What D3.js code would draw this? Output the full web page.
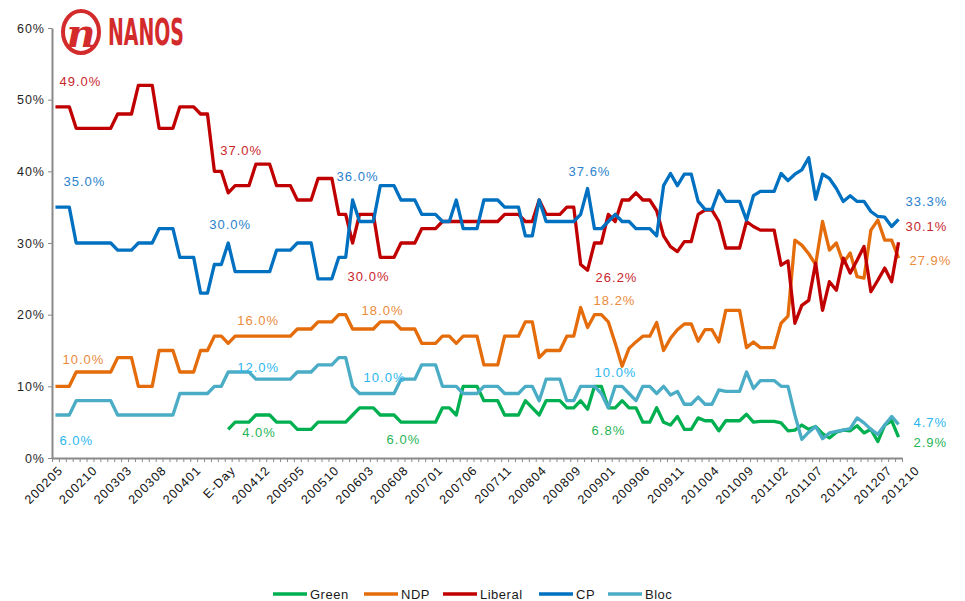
<!DOCTYPE html>
<html>
<head>
<meta charset="utf-8">
<title>Nanos tracking</title>
<script src="https://d3js.org/d3.v7.min.js"></script>
<style>
  body { margin: 0; background: #fff; }
  text { font-family: "Liberation Sans", Arial, sans-serif; }
</style>
</head>
<body>
<div id="chart"></div>
<script>
/* ---- data ---- */
var tickLabels = ["200205","200210","200303","200308","200401","E-Day","200412","200505","200510",
                  "200603","200608","200701","200706","200711","200804","200809","200901","200906",
                  "200911","201004","201009","201102","201107","201112","201207","201210"];
var tickIndex = [0,5,10,15,20,25,30,35,40,45,50,55,60,65,70,75,80,85,90,95,100,105,110,115,120,124];
var nPoints = 123;

var green = [null,null,null,null,null,null,null,null,null,null,null,null,null,null,null,null,null,null,null,null,null,null,null,null,null,
  4, 5,5,5, 6,6,6, 5,5,5, 4,4,4, 5,5,5,5,5, 6, 7,7,7, 6,6,6, 5,5,5,5,5,5, 7,7, 6, 10,10,10, 8,8,8, 6,6,6, 8, 7, 6, 8,8,8, 7,7, 8, 6.8, 10,10,
  7,7,8,7,7,5,5,7,5,4.6, 5.8,4,4,5.6,5.2,5.2,3.8,5.2,5.2,5.2, 6.1,5,5.1,5.1,5.1,4.9,3.8,3.9,4.6,4.0,
  4.4,3.4,2.8,3.6,3.9,3.8,4.5,3.5,4.0,2.3, 4.6,5.2,2.9];
var ndp = [10,10,10, 12,12,12,12,12,12, 14,14,14, 10,10,10, 15,15,15, 12,12,12, 15,15, 17,17, 16,
  17,17,17,17,17,17,17,17,17, 18,18,18, 19,19,19, 20,20, 18,18,18,18, 19,19,19, 18,18,18, 16,16,16, 17,17, 16,
  17,17,17, 13,13,13, 17,17,17, 19,19, 14, 15,15,15, 17,17, 21, 18.2, 20,20,
  19,16,12.8,15.3,16.2,17,17,18.9,15,16.7, 17.9,18.7,18.7,16.3,17.9,17.9,16.2,20.6,20.6,20.6,
  15.4,16.2,15.4,15.4,15.4,18.8,19.8,30.4,29.7,28.5, 27,33,29,30,27.2,28.6,25.3,25.1,31.8,33.2, 30.4,30.4,27.9];
var liberal = [49,49,49, 46,46,46,46,46,46, 48,48,48, 52,52,52, 46,46,46, 49,49,49, 48,48, 40,40, 37,
  38,38,38, 41,41,41, 38,38,38, 36,36,36, 39,39,39, 34,34, 30, 34,34,34, 28,28,28, 30,30,30, 32,32,32,
  33,33,33,33,33,33,33,33,33, 34,34,34, 33,33, 36, 34,34,34, 35,35, 27, 26.2, 30,30, 34, 33, 36,36,37,36,36,
  34.5,31,29.5,28.8,30.2,30.2,34,34.6,34.6,33, 29.3,29.3,29.3,33,32.3,31.8,31.8,31.8,26.9,27.5,
  18.8,21.3,22,27.2,20.6,24.6,23.4,27.9,25.8,27.6, 29.5,23.2,24.8,26.5,24.6,30.1];
var cp = [35,35,35, 30,30,30,30,30,30, 29,29,29, 30,30,30, 32,32,32, 28,28,28, 23,23, 27,27, 30,
  26,26,26,26,26,26, 29,29,29, 30,30,30, 25,25,25, 28,28, 36, 33,33,33, 38,38,38, 36,36,36, 34,34,34, 33,33, 36,
  32,32,32, 36,36,36, 35,35,35, 31,31, 36, 33,33,33,33,33, 34, 37.6, 32,32, 33, 34, 33,33, 32,32,32,
  31,38,39.7,38,39.6,39.6,35.8,34.7,34.7,37.3, 35.8,35.8,35.8,33.2,36.6,37.2,37.2,37.2,39.7,38.7,
  39.6,40.2,41.9,36.1,39.6,39,37.6,35.8,36.6,35.8, 35.8,34.4,33.7,33.6,32.3,33.3];
var bloc = [6,6,6, 8,8,8,8,8,8, 6,6,6,6,6,6,6,6,6, 9,9,9,9,9, 10,10, 12,12,12,12, 11,11,11,11,11,11,
  12,12,12, 13,13,13, 14,14, 10, 9,9,9,9,9,9, 11,11,11, 13,13,13, 10,10,10, 9,9,9, 10,10,10, 9,9,9, 10,10, 8,
  11,11,11, 8,8, 10, 10,
  10,9,7,10,10,9,8,10,10,9, 10,8.8,9.3,7.5,7.5,8.5,7.5,7.5,9.5,9.3,
  9.3,9.3,12,9.7,10.8,10.8,10.8,10,10,6, 2.6,3.6,4.4,2.7,3.5,3.7,3.9,4.1,5.6,4.9, 4.0,3.3,4.6,5.8,4.7];

var seriesNames = ["Green", "NDP", "Liberal", "CP", "Bloc"];
var seriesValues = [green, ndp, liberal, cp, bloc];
var lineColors = ["#00b050", "#e46c0a", "#c00000", "#0070c0", "#4bacc6"];
var labelColors = ["#1fb455", "#ea8a3a", "#c9252c", "#2a82cc", "#2bb6ee"];

/* value labels: series, point index, offset from the point */
var annotations = [
  {s: 2, i: 0, dx: 4, dy: -21}, {s: 3, i: 0, dx: 8, dy: -21}, {s: 1, i: 0, dx: 7, dy: -22}, {s: 4, i: 0, dx: 4, dy: 30},
  {s: 2, i: 25, dx: -8, dy: -38}, {s: 3, i: 25, dx: -19, dy: -14}, {s: 1, i: 25, dx: 9, dy: -18},
  {s: 4, i: 25, dx: 9, dy: 0}, {s: 0, i: 25, dx: 14, dy: 8},
  {s: 3, i: 43, dx: -16, dy: -19}, {s: 2, i: 43, dx: -5, dy: 38}, {s: 1, i: 43, dx: 9, dy: -14},
  {s: 4, i: 43, dx: 11, dy: -4}, {s: 0, i: 43, dx: 34, dy: 29},
  {s: 3, i: 77, dx: -19, dy: -13}, {s: 2, i: 77, dx: 8, dy: 12}, {s: 1, i: 77, dx: 6, dy: -23},
  {s: 4, i: 77, dx: 7, dy: -9}, {s: 0, i: 77, dx: 4, dy: 26},
  {s: 3, i: 122, dx: 7, dy: -13}, {s: 2, i: 122, dx: 7, dy: -11}, {s: 1, i: 122, dx: 11, dy: 7},
  {s: 4, i: 122, dx: 15, dy: 3}, {s: 0, i: 122, dx: 15, dy: 10}
];

/* ---- layout ---- */
var total_width = 965, total_height = 601;
var plot = {left: 52, right: 902, top: 28, bottom: 458};

var svg = d3.select("#chart").append("svg")
    .attr("width", total_width)
    .attr("height", total_height);

var x = d3.scaleLinear().domain([-0.5, nPoints - 0.5]).range([plot.left, plot.right]);
var y = d3.scaleLinear().domain([0, 60]).range([plot.bottom, plot.top]);

/* logo */
var logo = svg.append("g").attr("fill", "#d32b2b");
logo.append("ellipse")
    .attr("cx", 81).attr("cy", 32).attr("rx", 18).attr("ry", 21)
    .attr("fill", "none").attr("stroke", "#d32b2b").attr("stroke-width", 4);
logo.append("text")
    .attr("x", 81).attr("y", 47).attr("text-anchor", "middle")
    .style("font-family", "'DejaVu Serif', 'Liberation Serif', serif")
    .style("font-style", "italic").style("font-weight", "bold")
    .style("font-size", "40px").text("n");
logo.append("text")
    .attr("x", 108).attr("y", 45)
    .attr("textLength", 76).attr("lengthAdjust", "spacingAndGlyphs")
    .style("font-family", "'Liberation Sans Narrow', 'DejaVu Sans Condensed', sans-serif")
    .style("font-weight", "bold").style("font-size", "37px").text("NANOS");

/* y axis */
var yAxis = svg.append("g")
    .attr("transform", "translate(" + plot.left + ",0)")
    .call(d3.axisLeft(y).tickValues([0, 10, 20, 30, 40, 50, 60])
        .tickFormat(function(d){ return d + "%"; }).tickSize(4).tickSizeOuter(0));
yAxis.select(".domain").attr("stroke", "#898989").attr("stroke-width", 2);
yAxis.selectAll(".tick line").attr("stroke", "#898989").attr("stroke-width", 1);
yAxis.selectAll(".tick text")
    .attr("x", -7)
    .style("font-size", "12.5px").style("letter-spacing", "1px").attr("fill", "#1f1f1f");

/* x axis */
var xAxis = svg.append("g")
    .attr("transform", "translate(0," + plot.bottom + ")")
    .call(d3.axisBottom(x).tickValues(d3.range(nPoints + 1).map(function(i){ return i - 0.5; }))
        .tickFormat("").tickSize(4).tickSizeOuter(0));
xAxis.select(".domain").attr("stroke", "#898989").attr("stroke-width", 2);
xAxis.selectAll(".tick line").attr("stroke", "#898989").attr("stroke-width", 1);

svg.append("g").selectAll("text")
    .data(tickLabels)
    .enter().append("text")
    .attr("transform", function(d, k){ return "translate(" + (x(tickIndex[k]) + 5) + "," + (plot.bottom + 10) + ") rotate(-45)"; })
    .attr("text-anchor", "end")
    .attr("dy", "0.35em")
    .style("font-size", "12.5px").style("letter-spacing", "1px")
    .attr("fill", "#111")
    .text(function(d){ return d; });

/* lines */
var line = d3.line()
    .defined(function(d){ return d != null; })
    .x(function(d, i){ return x(i); })
    .y(function(d){ return y(d); });

svg.append("g").selectAll("path")
    .data(seriesValues)
    .enter().append("path")
    .attr("d", line)
    .attr("fill", "none")
    .attr("stroke", function(d, k){ return lineColors[k]; })
    .attr("stroke-width", 3.3)
    .attr("stroke-linejoin", "round");

/* value labels */
var fmt = d3.format(".1f");
svg.append("g").selectAll("text")
    .data(annotations)
    .enter().append("text")
    .attr("x", function(a){ return x(a.i) + a.dx; })
    .attr("y", function(a){ return y(seriesValues[a.s][a.i]) + a.dy; })
    .attr("fill", function(a){ return labelColors[a.s]; })
    .style("font-size", "13px").style("letter-spacing", "1px")
    .text(function(a){ return fmt(seriesValues[a.s][a.i]) + "%"; });

/* legend */
var legendX = [273, 364, 443, 539, 608];
var legend = svg.append("g").selectAll("g")
    .data(seriesNames)
    .enter().append("g")
    .attr("transform", function(d, k){ return "translate(" + legendX[k] + ",594)"; });
legend.append("line")
    .attr("x1", 0).attr("x2", 34).attr("y1", 0).attr("y2", 0)
    .attr("stroke", function(d, k){ return lineColors[k]; })
    .attr("stroke-width", 3.5);
legend.append("text")
    .attr("x", 37).attr("dy", "0.35em")
    .style("font-size", "13px").style("letter-spacing", "0.5px")
    .attr("fill", "#1a1a1a")
    .text(function(d){ return d; });
</script>
</body>
</html>
